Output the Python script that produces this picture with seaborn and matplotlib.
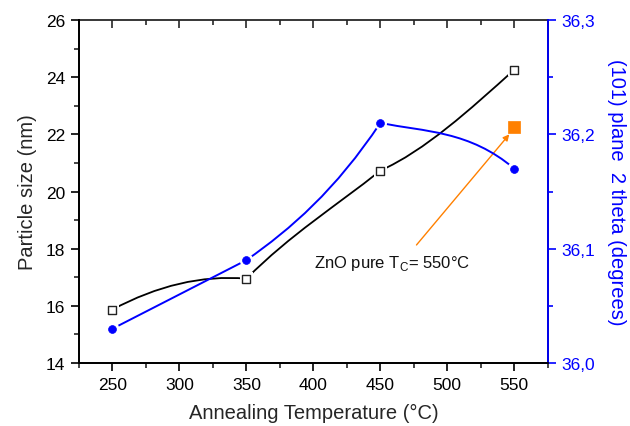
import numpy as np
import pandas as pd
import matplotlib
matplotlib.use("Agg")
import matplotlib.pyplot as plt
import seaborn as sns
from matplotlib.path import Path
from matplotlib.patches import PathPatch
from matplotlib.ticker import MultipleLocator, FuncFormatter

# ---- data ----
temps = [250, 350, 450, 550]
particle_size = [15.87, 16.95, 20.73, 24.26]
two_theta = [36.030, 36.090, 36.210, 36.170]
pure_temp = [550]
pure_size = [22.27]

# curve handle slopes (start, end) per segment, in data units (drawing style)
black_handles = [(0.025, -0.004), (0.047, 0.0375), (0.0211, 0.0422)]
blue_handles = [(0.0006, 0.0006), (0.00082, 0.00176), (-0.000234, -0.000996)]

sns.set_theme(style="ticks")
plt.rcParams['font.family'] = ['Liberation Sans', 'DejaVu Sans']
plt.rcParams['mathtext.fontset'] = 'custom'
plt.rcParams['mathtext.rm'] = 'Liberation Sans'

BLUE = '#0000FF'
ORANGE = '#FF8000'

fig = plt.figure(figsize=(6.3, 4.27), dpi=100)
ax = fig.add_axes([0.1254, 0.1475, 0.8694 - 0.1254, 0.9508 - 0.1475])
ax2 = ax.twinx()


def bezier_path(xs, ys, handles):
    verts = [(xs[0], ys[0])]
    codes = [Path.MOVETO]
    for i in range(len(xs) - 1):
        x0, y0, x1, y1 = xs[i], ys[i], xs[i + 1], ys[i + 1]
        dx = (x1 - x0) / 3.0
        s0, s1 = handles[i]
        verts += [(x0 + dx, y0 + s0 * dx), (x1 - dx, y1 - s1 * dx), (x1, y1)]
        codes += [Path.CURVE4] * 3
    return Path(verts, codes)


ax.add_patch(PathPatch(bezier_path(temps, particle_size, black_handles),
                       facecolor='none', edgecolor='black', lw=1.3, zorder=2))
ax2.add_patch(PathPatch(bezier_path(temps, two_theta, blue_handles),
                        facecolor='none', edgecolor=BLUE, lw=1.4, zorder=2))

df_size = pd.DataFrame({'T': temps, 'size': particle_size})
df_theta = pd.DataFrame({'T': temps, 'theta': two_theta})
df_pure = pd.DataFrame({'T': pure_temp, 'size': pure_size})

# white halos (line gaps around symbols)
sns.scatterplot(data=df_size, x='T', y='size', ax=ax, marker='s', s=85,
                color='white', edgecolor='none', linewidth=0, zorder=3, legend=False)
sns.scatterplot(data=df_theta, x='T', y='theta', ax=ax2, marker='o', s=95,
                color='white', edgecolor='none', linewidth=0, zorder=3, legend=False)

sns.scatterplot(data=df_size, x='T', y='size', ax=ax, marker='s', s=30,
                facecolor='white', edgecolor='#222222', linewidth=1.0,
                zorder=5, legend=False)
sns.scatterplot(data=df_pure, x='T', y='size', ax=ax, marker='s', s=70,
                color=ORANGE, edgecolor=ORANGE, linewidth=0.5,
                zorder=5, legend=False)
sns.scatterplot(data=df_theta, x='T', y='theta', ax=ax2, marker='o', s=32,
                color=BLUE, edgecolor=BLUE, linewidth=0.5,
                zorder=5, legend=False)

ax.set_xlim(225, 575)
ax.set_ylim(14, 26)
ax2.set_ylim(36.0, 36.3)

ax.xaxis.set_major_locator(MultipleLocator(50))
ax.xaxis.set_minor_locator(MultipleLocator(25))
ax.yaxis.set_major_locator(MultipleLocator(2))
ax.yaxis.set_minor_locator(MultipleLocator(1))
ax2.yaxis.set_major_locator(MultipleLocator(0.1))
ax2.yaxis.set_minor_locator(MultipleLocator(0.05))
ax2.yaxis.set_major_formatter(FuncFormatter(lambda v, p: f"{v:.1f}".replace('.', ',')))

ax.set_xlabel('Annealing Temperature (°C)', fontsize=14.5, labelpad=8)
ax.set_ylabel('Particle size (nm)', fontsize=14.5, labelpad=6)
ax2.set_ylabel('(101) plane  2 theta (degrees)', fontsize=14.5, color=BLUE,
               rotation=-90, labelpad=22)

for a in (ax, ax2):
    for sp in a.spines.values():
        sp.set_linewidth(1.3)
        sp.set_color('black')
ax2.spines['right'].set_color(BLUE)
ax.spines['top'].set_visible(False)
ax2.spines['top'].set_visible(False)

ax.tick_params(axis='both', which='major', direction='out', length=6, width=1.2,
               labelsize=12.5, colors='black', pad=4)
ax.tick_params(axis='both', which='minor', direction='out', length=3.5, width=1.2)
ax.tick_params(axis='y', right=False)
ax2.tick_params(axis='y', which='major', direction='out', length=6, width=1.2,
                labelsize=12.5, colors=BLUE, pad=4)
ax2.tick_params(axis='y', which='minor', direction='out', length=3.5, width=1.2,
                colors=BLUE)

top = ax.secondary_xaxis('top')
top.xaxis.set_major_locator(MultipleLocator(50))
top.xaxis.set_minor_locator(MultipleLocator(25))
top.tick_params(which='major', direction='in', length=6, width=1.2, labeltop=False)
top.tick_params(which='minor', direction='in', length=3.5, width=1.2)
top.spines['top'].set_linewidth(1.3)

ax.text(400.7, 17.53, 'ZnO pure T$_\\mathregular{C}$= 550°C', fontsize=12,
        ha='left', va='center', color='#111111')
ax.annotate('', xy=(546.3, 22.0), xytext=(477, 18.13),
            arrowprops=dict(arrowstyle='-|>', color=ORANGE, lw=1.0,
                            mutation_scale=9, shrinkA=0, shrinkB=0))

fig.savefig('out.png', dpi=100)
